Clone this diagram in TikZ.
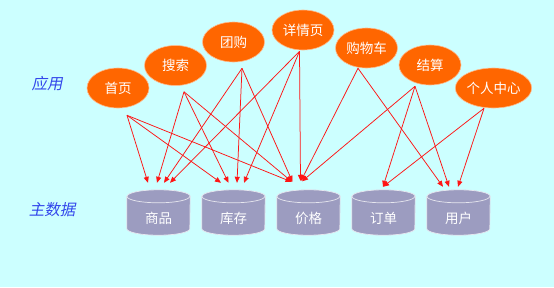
\documentclass[tikz,border=0pt]{standalone}
\usepackage{fontspec}
\usetikzlibrary{shapes.geometric,arrows.meta}
\newfontfamily\cjk{Noto Sans CJK SC}
\newfontfamily\cjkslant[FakeSlant=0.2]{Noto Sans CJK SC}
\definecolor{bgc}{RGB}{204,255,255}
\definecolor{appc}{RGB}{255,102,0}
\definecolor{dbc}{RGB}{156,156,192}
\definecolor{lblc}{RGB}{50,70,235}
\definecolor{arrc}{RGB}{255,20,20}
\pgfdeclarelayer{bglayer}
\pgfsetlayers{bglayer,main}
\tikzset{
  app/.style={ellipse, minimum width=62pt, minimum height=40pt, inner sep=0pt,
    fill=appc, draw=white!55!appc, line width=0.6pt, text=white,
    font=\cjk\fontsize{13.5}{15}\selectfont},
  dbnode/.style={rectangle, minimum width=63pt, minimum height=45pt, inner sep=0pt,
    text=white, font=\cjk\fontsize{13.5}{15}\selectfont},
  cylbody/.style={fill=dbc, draw=white!75!dbc, line width=0.7pt},
  lbl/.style={text=lblc, font=\cjkslant\fontsize{15.5}{17}\selectfont},
  link/.style={draw=arrc, line width=0.75pt, -{Triangle[length=6pt,width=5pt]}}
}
\newcommand{\dbtext}[1]{\raisebox{-11pt}[0pt][0pt]{#1}}
\begin{document}
\begin{tikzpicture}[x=1pt,y=-1pt]
\useasboundingbox (0,0) rectangle (554,287);
% labels
\node[lbl] (lapp) at (47,84) {应用};
\node[lbl] (ldata) at (52,210) {主数据};
% application nodes
\node[app] (a1) at (118,88) {首页};
\node[app] (a2) at (175.5,65.5) {搜索};
\node[app] (a3) at (233.5,42) {团购};
\node[app] (a4) at (303,30) {详情页};
\node[app] (a5) at (366.5,48) {购物车};
\node[app] (a6) at (430,65) {结算};
\node[app] (a7) at (493.5,88) {个人中心};
% data nodes
\node[dbnode] (d1) at (158.5,212.5) {\dbtext{商品}};
\node[dbnode] (d2) at (233.5,212.5) {\dbtext{库存}};
\node[dbnode] (d3) at (308.5,212.5) {\dbtext{价格}};
\node[dbnode] (d4) at (383.5,212.5) {\dbtext{订单}};
\node[dbnode] (d5) at (458.5,212.5) {\dbtext{用户}};
\begin{pgfonlayer}{bglayer}
\fill[bgc] (0,0) rectangle (554,287);
\foreach \n in {d1,d2,d3,d4,d5}{
  \draw[cylbody] ([shift={(0,6.5)}]\n.north west)
     -- ([shift={(0,-6.5)}]\n.south west)
     arc[start angle=180, end angle=0, x radius=31.5, y radius=6.5]
     -- ([shift={(0,6.5)}]\n.north east)
     arc[start angle=0, end angle=-180, x radius=31.5, y radius=6.5]
     -- cycle;
  \draw[cylbody, fill=none] ([shift={(0,6.5)}]\n.north west)
     arc[start angle=180, end angle=0, x radius=31.5, y radius=6.5];
}
\end{pgfonlayer}
% start points
\coordinate (s1) at ([shift={(9,7)}]a1.south);
\coordinate (s2) at ([shift={(8.5,6)}]a2.south);
\coordinate (s3) at ([shift={(8.5,6)}]a3.south);
\coordinate (s4) at ([shift={(-3.5,1)}]a4.south);
\coordinate (s5) at ([shift={(-8.5,0)}]a5.south);
\coordinate (s6) at ([shift={(-15,1)}]a6.south);
\coordinate (s7) at ([shift={(-9.5,0)}]a7.south);
% 商品
\draw[link] (s1) -- ([shift={(-10.5,-7)}]d1.north);
\draw[link] (s2) -- ([shift={(-1.5,-7)}]d1.north);
\draw[link] (s3) -- ([shift={(5.5,-7)}]d1.north);
\draw[link] (s4) -- ([shift={(11.5,-7)}]d1.north);
% 库存
\draw[link] (s1) -- ([shift={(-12.5,-7)}]d2.north);
\draw[link] (s2) -- ([shift={(-5,-7)}]d2.north);
\draw[link] (s3) -- ([shift={(3.5,-7)}]d2.north);
\draw[link] (s4) -- ([shift={(10.5,-7)}]d2.north);
% 价格
\draw[link] (s1) -- ([shift={(-17,-8)}]d3.north);
\draw[link] (s2) -- ([shift={(-16.5,-8)}]d3.north);
\draw[link] (s3) -- ([shift={(-16,-8)}]d3.north);
\draw[link] (s4) -- ([shift={(-8,-9)}]d3.north);
\draw[link] (s5) -- ([shift={(-7.5,-9)}]d3.north);
\draw[link] (s6) -- ([shift={(-6.5,-8.5)}]d3.north);
% 订单
\draw[link] (s6) -- ([shift={(-0.5,-3)}]d4.north);
\draw[link] (s7) -- ([shift={(-0.5,-3)}]d4.north);
% 用户
\draw[link] (s5) -- ([shift={(-15.5,-3)}]d5.north);
\draw[link] (s6) -- ([shift={(-9.5,-3)}]d5.north);
\draw[link] (s7) -- ([shift={(-0.5,-3)}]d5.north);
\end{tikzpicture}
\end{document}
